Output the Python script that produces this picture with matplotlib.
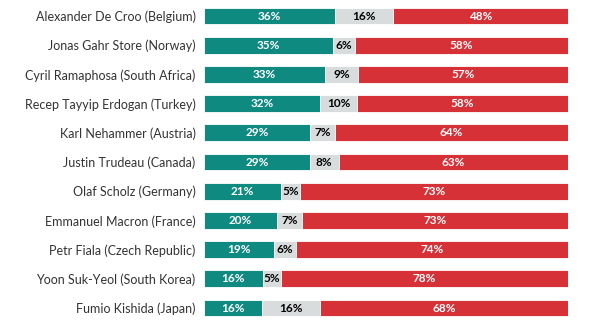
import matplotlib.pyplot as plt

plt.rcParams['font.family'] = ['Lato', 'DejaVu Sans']

leaders = [
    'Alexander De Croo (Belgium)',
    'Jonas Gahr Store (Norway)',
    'Cyril Ramaphosa (South Africa)',
    'Recep Tayyip Erdogan (Turkey)',
    'Karl Nehammer (Austria)',
    'Justin Trudeau (Canada)',
    'Olaf Scholz (Germany)',
    'Emmanuel Macron (France)',
    'Petr Fiala (Czech Republic)',
    'Yoon Suk-Yeol (South Korea)',
    'Fumio Kishida (Japan)',
]
approve = [36, 35, 33, 32, 29, 29, 21, 20, 19, 16, 16]
unsure = [16, 6, 9, 10, 7, 8, 5, 7, 6, 5, 16]
disapprove = [48, 58, 57, 58, 64, 63, 73, 73, 74, 78, 68]

teal = '#0e8a80'
grey = '#d9dcdc'
red = '#d73138'

fig = plt.figure(figsize=(6, 3.26), dpi=100)
ax = fig.add_axes([204 / 600, 0.0104, 364 / 600, 0.9853])

# rounded shares don't always add to 100, so scale each row to its own total
totals = [a + u + d for a, u, d in zip(approve, unsure, disapprove)]

y = list(range(len(leaders)))
h = 0.58
left = [0] * len(leaders)
for vals, col, txt in [(approve, teal, 'white'), (unsure, grey, 'black'), (disapprove, red, 'white')]:
    widths = [v / t * 100 for v, t in zip(vals, totals)]
    bars = ax.barh(y, widths, left=left, height=h, color=col, edgecolor='white', linewidth=0.6)
    for b, v, w, l in zip(bars, vals, widths, left):
        ax.text(l + w / 2, b.get_y() + h / 2, f'{v}%', ha='center', va='center',
                color=txt, fontsize=8.5, fontweight='bold')
    left = [a + b for a, b in zip(left, widths)]

ax.set_xlim(0, 100)
ax.set_ylim(len(leaders) - 0.5, -0.5)
ax.set_yticks(y)
ax.set_yticklabels(leaders, fontsize=9, color='#333333')
ax.tick_params(axis='y', length=0, pad=6)
ax.set_xticks([])
for s in ax.spines.values():
    s.set_visible(False)

fig.savefig('out.png', dpi=100)
